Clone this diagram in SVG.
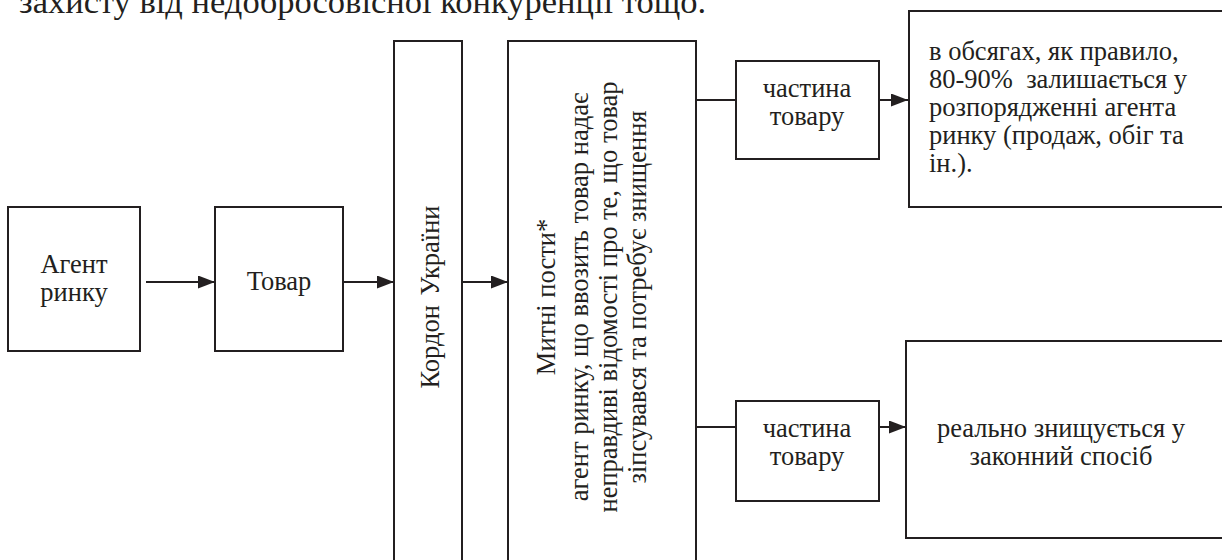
<svg xmlns="http://www.w3.org/2000/svg" width="1222" height="560" viewBox="0 0 1222 560">
<defs>
<style>
.box{fill:#fff;stroke:#231f20;stroke-width:2}
.ln{stroke:#231f20;stroke-width:2;fill:none}
.t{font-family:'Liberation Serif','Times New Roman',serif;font-size:26.5px;fill:#231f20}
.c{text-anchor:middle}
</style>
<marker id="ah" markerUnits="userSpaceOnUse" markerWidth="17" markerHeight="13" refX="17" refY="6.5" orient="auto">
<path d="M0,0 L17,6.5 L0,13 z" fill="#231f20"/>
</marker>
</defs>
<rect width="1222" height="560" fill="#fff"/>
<text class="t" x="19" y="13" style="font-size:34.5px">захисту від недобросовісної конкуренції тощо.</text>
<g id="agent">
<rect class="box" x="8" y="207" width="132" height="144"/>
<text class="t c" x="74" y="273">Агент</text>
<text class="t c" x="74" y="301">ринку</text>
</g>
<g id="tovar">
<rect class="box" x="215" y="207" width="128" height="144"/>
<text class="t c" x="279" y="290">Товар</text>
</g>
<g id="kordon">
<rect class="box" x="394" y="41" width="68" height="540"/>
<text class="t c" transform="translate(439,297) rotate(-90)" word-spacing="3">Кордон України</text>
</g>
<g id="mytni">
<rect class="box" x="508" y="41" width="188" height="540"/>
<g transform="translate(0,297) rotate(-90)">
<text class="t c" x="0" y="555">Митні пости*</text>
<text class="t c" x="0" y="588">агент ринку, що ввозить товар надає</text>
<text class="t c" x="0" y="617">неправдиві відомості про те, що товар</text>
<text class="t c" x="0" y="646">зіпсувався та потребує знищення</text>
</g>
</g>
<g id="chastyna1">
<rect class="box" x="736" y="61" width="143" height="98"/>
<text class="t c" x="807" y="97">частина</text>
<text class="t c" x="807" y="125">товару</text>
</g>
<g id="result1">
<rect class="box" x="909" y="11" width="330" height="196"/>
<text class="t" x="929" y="60">в обсягах, як правило,</text>
<text class="t" x="929" y="88" xml:space="preserve">80-90%  залишається у</text>
<text class="t" x="929" y="116">розпорядженні агента</text>
<text class="t" x="929" y="144">ринку (продаж, обіг та</text>
<text class="t" x="929" y="172">ін.).</text>
</g>
<g id="chastyna2">
<rect class="box" x="736" y="401" width="143" height="100"/>
<text class="t c" x="807" y="437">частина</text>
<text class="t c" x="807" y="465">товару</text>
</g>
<g id="result2">
<rect class="box" x="906" y="341" width="330" height="197"/>
<text class="t c" x="1061" y="437">реально знищується у</text>
<text class="t c" x="1061" y="465">законний спосіб</text>
</g>
<g id="connectors">
<line class="ln" x1="146" y1="282" x2="215" y2="282" marker-end="url(#ah)"/>
<line class="ln" x1="343" y1="282" x2="394" y2="282" marker-end="url(#ah)"/>
<line class="ln" x1="462" y1="282" x2="508" y2="282" marker-end="url(#ah)"/>
<line class="ln" x1="696" y1="100" x2="736" y2="100"/>
<line class="ln" x1="696" y1="427" x2="736" y2="427"/>
<line class="ln" x1="879" y1="100" x2="908" y2="100" marker-end="url(#ah)"/>
<line class="ln" x1="879" y1="427" x2="906" y2="427" marker-end="url(#ah)"/>
</g>
</svg>
